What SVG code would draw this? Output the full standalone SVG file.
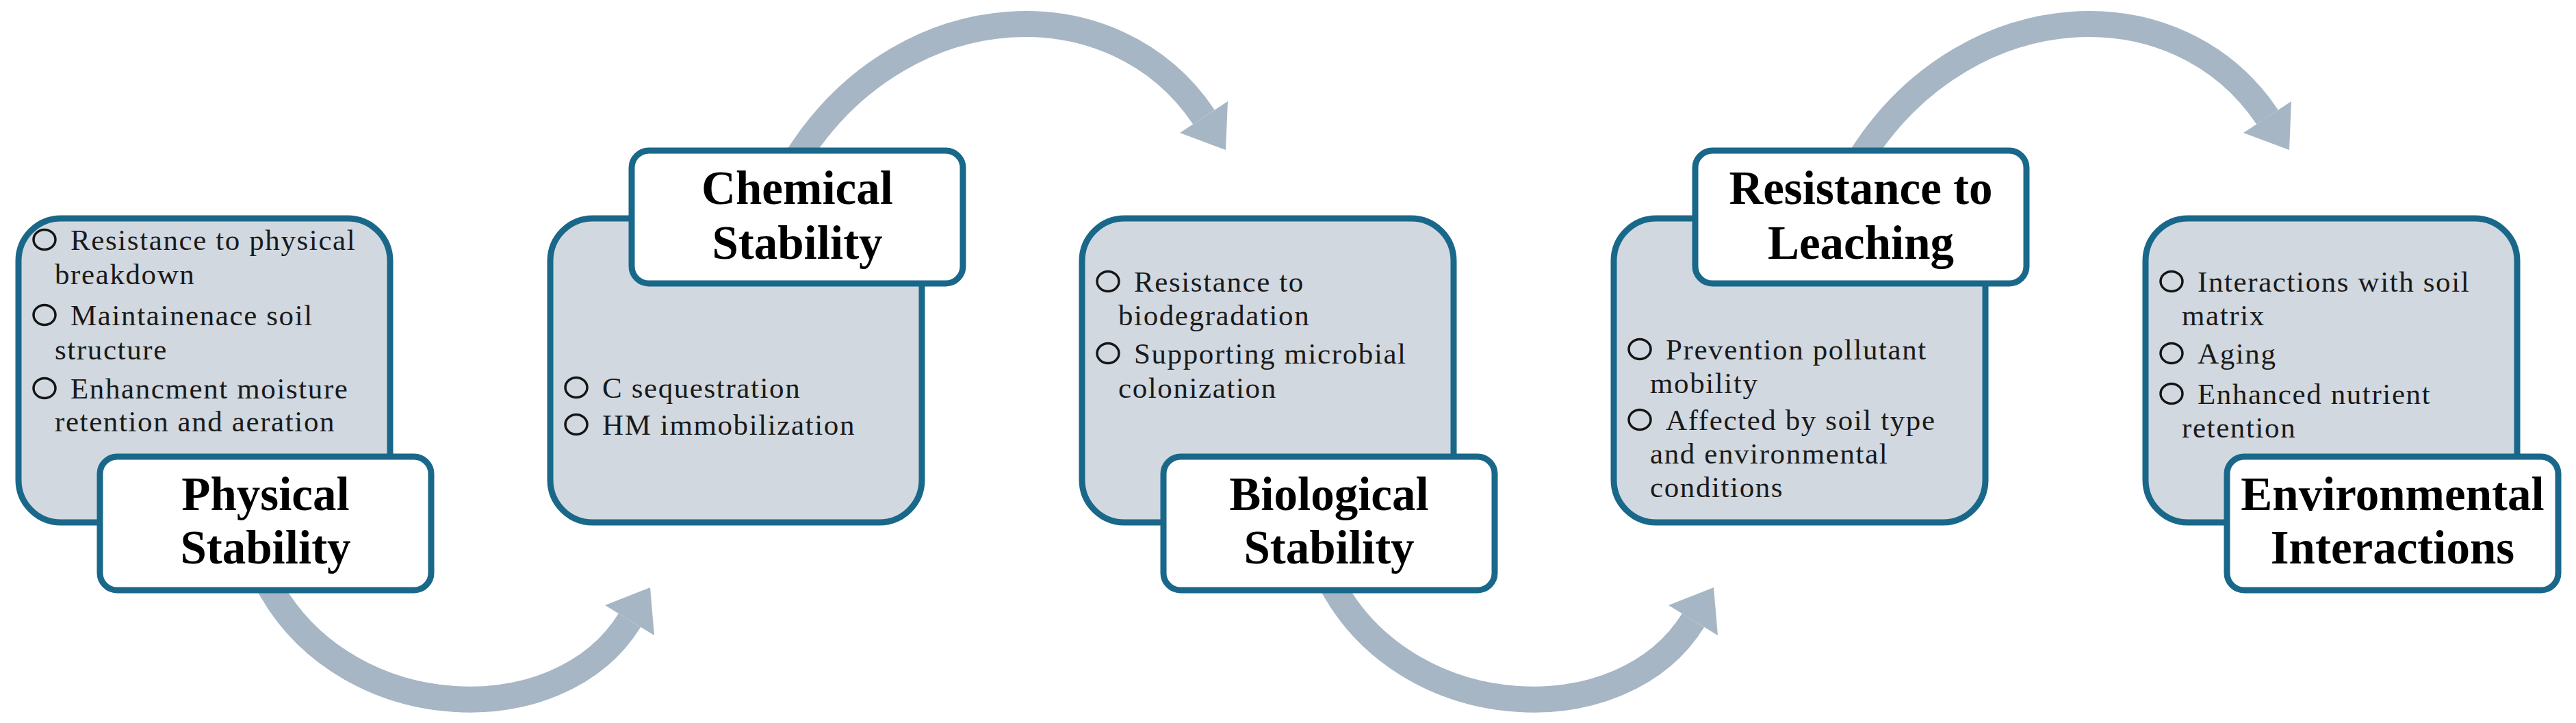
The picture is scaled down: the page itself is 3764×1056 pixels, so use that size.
<svg xmlns="http://www.w3.org/2000/svg" width="3764" height="1056" viewBox="0 0 3764 1056">
<style>
.panel{fill:#D1D8E0;stroke:#19688A;stroke-width:9}
.title{fill:#FFFFFF;stroke:#19688A;stroke-width:9}
.band{fill:none;stroke:#A6B6C5;stroke-width:38}
.head{fill:#A6B6C5}
.bul{fill:none;stroke:#151515;stroke-width:3.5}
.t{font-family:"Liberation Serif","Times New Roman",serif;font-size:43px;letter-spacing:1.6px;fill:#1A1A1A}
.h{font-family:"Liberation Serif","Times New Roman",serif;font-size:69px;font-weight:bold;fill:#000000;text-anchor:middle}
</style>
<rect width="3764" height="1056" fill="#FFFFFF"/>
<g id="connectors">
<path class="band" d="M 383 838 L 397 862 C 512 1061 817 1072 920 906"/>
<polygon class="head" points="950,858 956,928 884,884"/>
<path class="band" d="M 1159 239 L 1173 218 C 1327 -10 1628 -24 1759 171"/>
<polygon class="head" points="1791,219 1794,148 1724,194"/>
<path class="band" d="M 1937 838 L 1951 862 C 2066 1061 2371 1072 2474 906"/>
<polygon class="head" points="2504,858 2510,928 2438,884"/>
<path class="band" d="M 2713 239 L 2727 218 C 2881 -10 3182 -24 3313 171"/>
<polygon class="head" points="3345,219 3348,148 3278,194"/>
</g>
<g id="node-physical">
<rect class="panel" x="27" y="319" width="543" height="444" rx="62"/>
<ellipse class="bul" cx="65" cy="350" rx="16" ry="14.5"/>
<text class="t" x="103" y="365">Resistance to physical</text>
<text class="t" x="80" y="415">breakdown</text>
<ellipse class="bul" cx="65" cy="460" rx="16" ry="14.5"/>
<text class="t" x="103" y="475">Maintainenace soil</text>
<text class="t" x="80" y="525">structure</text>
<ellipse class="bul" cx="65" cy="567" rx="16" ry="14.5"/>
<text class="t" x="103" y="582">Enhancment moisture</text>
<text class="t" x="80" y="630">retention and aeration</text>
<rect class="title" x="146" y="667" width="484" height="195" rx="25"/>
<text class="h" x="388" y="745">Physical</text>
<text class="h" x="388" y="823">Stability</text>
</g>
<g id="node-chemical">
<rect class="panel" x="804" y="319" width="543" height="444" rx="62"/>
<ellipse class="bul" cx="842" cy="566" rx="16" ry="14.5"/>
<text class="t" x="880" y="581">C sequestration</text>
<ellipse class="bul" cx="842" cy="620" rx="16" ry="14.5"/>
<text class="t" x="880" y="635">HM immobilization</text>
<rect class="title" x="923" y="220" width="484" height="194" rx="25"/>
<text class="h" x="1165" y="298">Chemical</text>
<text class="h" x="1165" y="378">Stability</text>
</g>
<g id="node-biological">
<rect class="panel" x="1581" y="319" width="543" height="444" rx="62"/>
<ellipse class="bul" cx="1619" cy="411" rx="16" ry="14.5"/>
<text class="t" x="1657" y="426">Resistance to</text>
<text class="t" x="1634" y="475">biodegradation</text>
<ellipse class="bul" cx="1619" cy="516" rx="16" ry="14.5"/>
<text class="t" x="1657" y="531">Supporting microbial</text>
<text class="t" x="1634" y="581">colonization</text>
<rect class="title" x="1700" y="667" width="484" height="195" rx="25"/>
<text class="h" x="1942" y="745">Biological</text>
<text class="h" x="1942" y="823">Stability</text>
</g>
<g id="node-leaching">
<rect class="panel" x="2358" y="319" width="543" height="444" rx="62"/>
<ellipse class="bul" cx="2396" cy="510" rx="16" ry="14.5"/>
<text class="t" x="2434" y="525">Prevention pollutant</text>
<text class="t" x="2411" y="574">mobility</text>
<ellipse class="bul" cx="2396" cy="613" rx="16" ry="14.5"/>
<text class="t" x="2434" y="628">Affected by soil type</text>
<text class="t" x="2411" y="677">and environmental</text>
<text class="t" x="2411" y="726">conditions</text>
<rect class="title" x="2477" y="220" width="484" height="194" rx="25"/>
<text class="h" x="2719" y="298">Resistance to</text>
<text class="h" x="2719" y="378">Leaching</text>
</g>
<g id="node-environmental">
<rect class="panel" x="3135" y="319" width="543" height="444" rx="62"/>
<ellipse class="bul" cx="3173" cy="411" rx="16" ry="14.5"/>
<text class="t" x="3211" y="426">Interactions with soil</text>
<text class="t" x="3188" y="475">matrix</text>
<ellipse class="bul" cx="3173" cy="516" rx="16" ry="14.5"/>
<text class="t" x="3211" y="531">Aging</text>
<ellipse class="bul" cx="3173" cy="575" rx="16" ry="14.5"/>
<text class="t" x="3211" y="590">Enhanced nutrient</text>
<text class="t" x="3188" y="639">retention</text>
<rect class="title" x="3254" y="667" width="484" height="195" rx="25"/>
<text class="h" x="3496" y="745">Environmental</text>
<text class="h" x="3496" y="823">Interactions</text>
</g>
</svg>
